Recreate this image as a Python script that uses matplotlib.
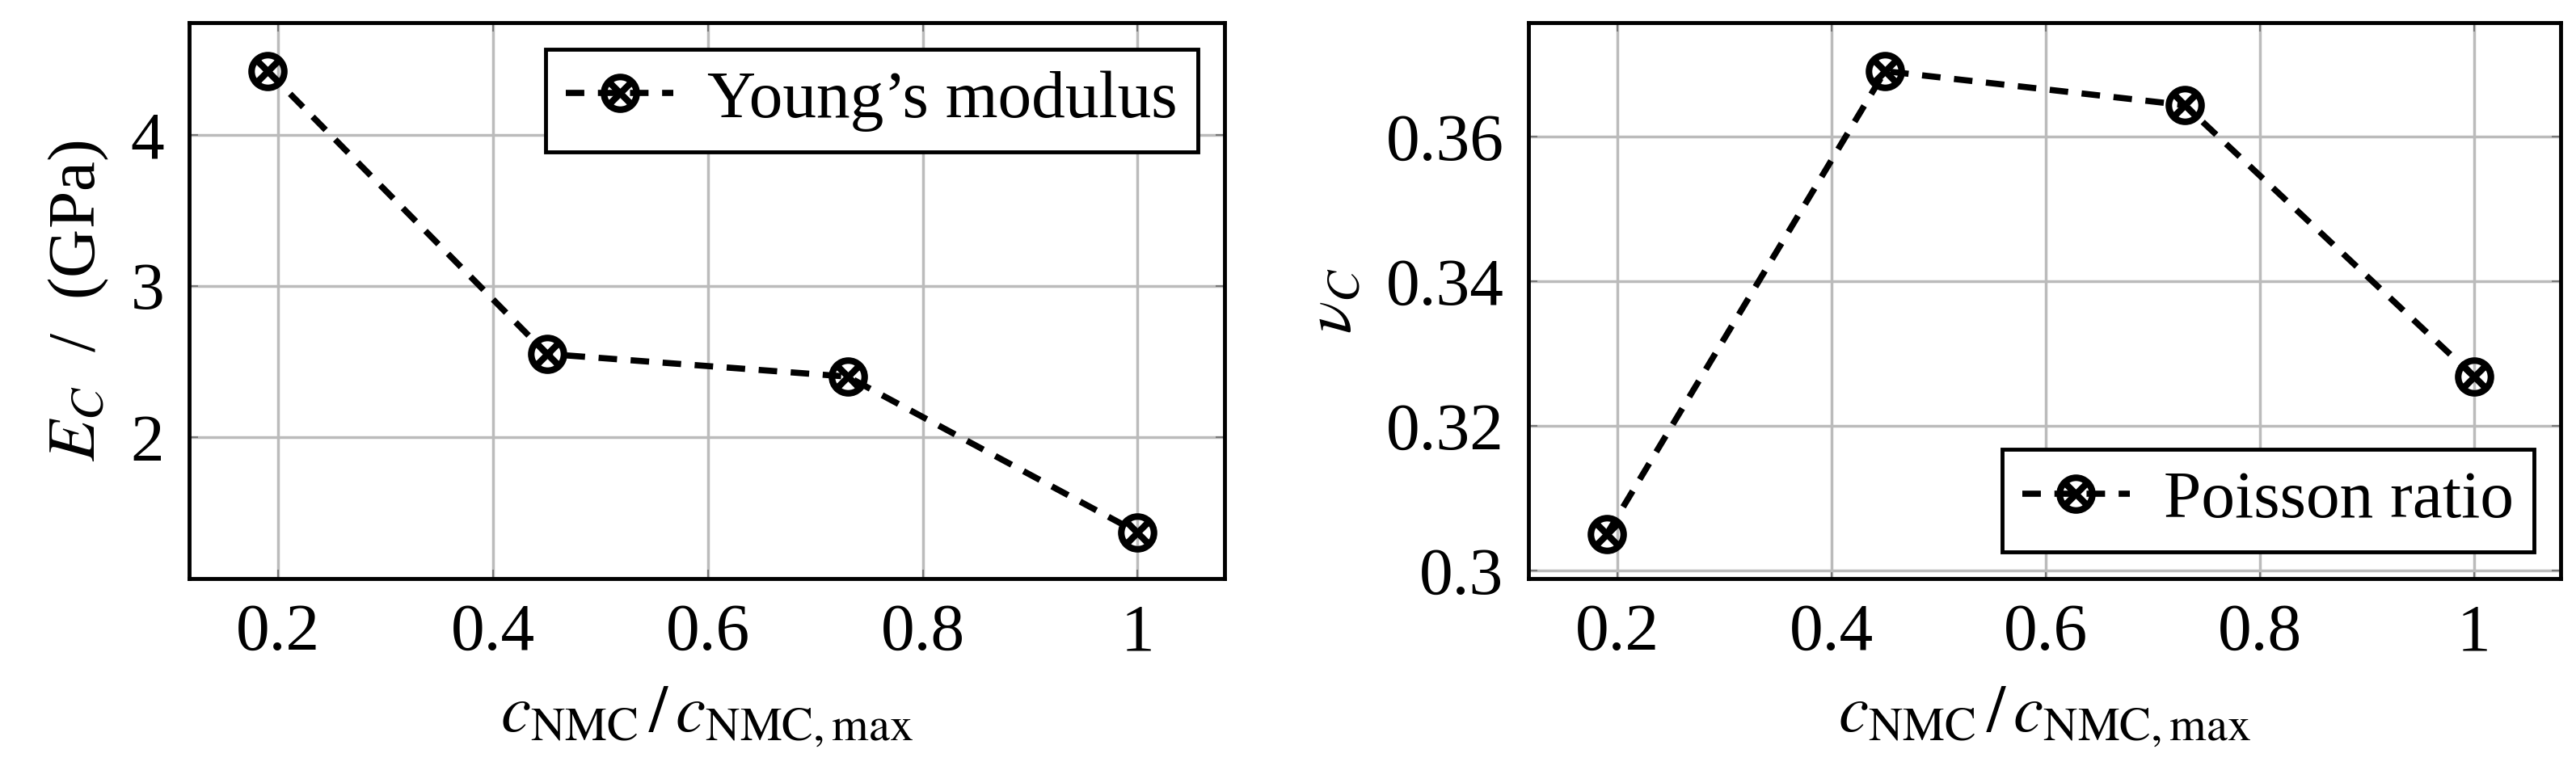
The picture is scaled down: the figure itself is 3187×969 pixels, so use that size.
import matplotlib
matplotlib.use("Agg")
import matplotlib.pyplot as plt

plt.rcParams['font.family'] = ['Liberation Serif', 'DejaVu Serif']
plt.rcParams['mathtext.fontset'] = 'stix'

x = [0.19, 0.45, 0.73, 1.0]
E = [4.42, 2.55, 2.40, 1.37]
nu = [0.305, 0.369, 0.3643, 0.3268]
xticks = [0.2, 0.4, 0.6, 0.8, 1.0]
xticklabels = ['0.2', '0.4', '0.6', '0.8', '1']

fs = 60
fig = plt.figure(figsize=(31.87, 9.69), dpi=100)
ax1 = fig.add_axes([234/3187, 1 - 716/969, (1515-234)/3187, (716-28)/969])
ax2 = fig.add_axes([1891/3187, 1 - 716/969, (3168-1891)/3187, (716-28)/969])

def style(ax):
    ax.grid(True, color='#bbbbbb', linewidth=2.5)
    ax.set_axisbelow(True)
    for s in ax.spines.values():
        s.set_linewidth(3.5)
    ax.tick_params(labelsize=fs, length=8, width=1.5, color='#777777', direction='in',
                   top=True, right=True, pad=22)
    ax.set_xticks(xticks)
    ax.set_xticklabels(xticklabels)
    ax.set_xlim(0.117, 1.081)
    ax.set_xlabel(r'$c_{\mathrm{NMC}}\,/\,c_{\mathrm{NMC,max}}$', fontsize=fs, labelpad=18)

mk = dict(color='black', linestyle='--', linewidth=5.5, dashes=(3, 2.2),
          marker=r'$\otimes$', markersize=32, markeredgewidth=3)
ax1.plot(x, E, label="Young’s modulus", **mk)
style(ax1)
ax1.set_ylim(1.065, 4.74)
ax1.set_yticks([2, 3, 4])
ax1.set_yticklabels(['2', '3', '4'])
ax1.set_ylabel(r'$E_C$  /  (GPa)', fontsize=fs, labelpad=18)
l1 = ax1.legend(loc='upper right', fontsize=fs, fancybox=False, edgecolor='black',
                framealpha=1, handlelength=1.6, borderpad=0.3, handletextpad=0.5,
                borderaxespad=0.4)
l1.get_frame().set_linewidth(3.5)

ax2.plot(x, nu, label='Poisson ratio', **mk)
style(ax2)
ax2.set_ylim(0.2989, 0.3757)
ax2.set_yticks([0.30, 0.32, 0.34, 0.36])
ax2.set_yticklabels(['0.3', '0.32', '0.34', '0.36'])
ax2.set_ylabel(r'$\nu_C$', fontsize=fs, labelpad=18)
l2 = ax2.legend(loc='lower right', fontsize=fs, fancybox=False, edgecolor='black',
                framealpha=1, handlelength=1.6, borderpad=0.3, handletextpad=0.5,
                borderaxespad=0.4)
l2.get_frame().set_linewidth(3.5)

fig.savefig('out.png', dpi=100)
